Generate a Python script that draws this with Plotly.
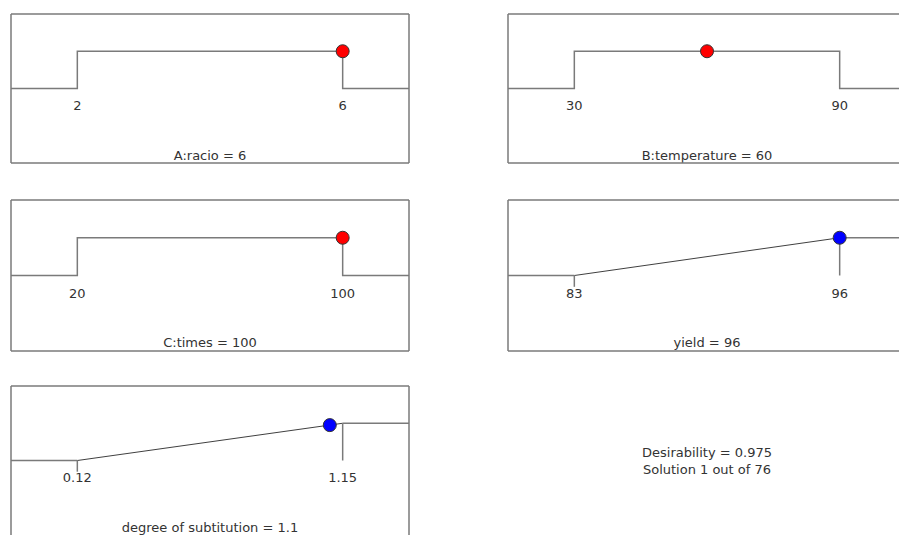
import plotly.graph_objects as go

# ---- data ----
panel_names = ["A:racio", "B:temperature", "C:times", "yield", "degree of subtitution"]
panel_values = ["6", "60", "100", "96", "1.1"]
low_limits = [2, 30, 20, 83, 0.12]
high_limits = [6, 90, 100, 96, 1.15]
tick_labels = [["2", "6"], ["30", "90"], ["20", "100"], ["83", "96"], ["0.12", "1.15"]]
solution_x = [6, 60, 100, 96, 1.1]
solution_d = [1, 1, 1, 1, 0.95]
goal_kind = ["range", "range", "range", "max", "max"]
dot_colors = ["#ff0000", "#ff0000", "#ff0000", "#0000ff", "#0000ff"]
desirability = 0.975
solution_no = 1
solution_total = 76

# ---- layout geometry (page pixels) ----
W, H = 899, 535
cols = [(11, 409), (508, 906)]
rows = [(14, 163), (200, 351), (386, 535)]
slots = [(0, 0), (1, 0), (0, 1), (1, 1), (0, 2)]
# which borders each panel shows (top, left, bottom, right)
borders = [
    (True, True, True, True),
    (True, True, True, False),
    (True, True, True, True),
    (True, True, True, False),
    (True, True, False, True),
]

LINE = "#7a7a7a"
RAMP = "#404040"
TXT = "#333333"
FONT = "DejaVu Sans, sans-serif"
FS = 13
YR = (-2.0, 2.0)

fig = go.Figure()
layout_axes = {}
shapes = []

for i in range(5):
    c, r = slots[i]
    x0p, x1p = cols[c]
    y0p, y1p = rows[r]
    lo, hi = low_limits[i], high_limits[i]
    span = hi - lo
    r_lo = lo - 0.25 * span
    r_full_hi = hi + 0.25 * span
    vis_x1 = min(x1p, W)
    r_hi = r_lo + (r_full_hi - r_lo) * (vis_x1 - x0p) / (x1p - x0p)
    vis_y1 = min(y1p, H)
    y_lo = YR[1] - (YR[1] - YR[0]) * (vis_y1 - y0p) / (y1p - y0p)
    xa = "x" if i == 0 else f"x{i+1}"
    ya = "y" if i == 0 else f"y{i+1}"
    xkey = "xaxis" if i == 0 else f"xaxis{i+1}"
    ykey = "yaxis" if i == 0 else f"yaxis{i+1}"
    layout_axes[xkey] = dict(domain=[x0p / W, vis_x1 / W], range=[r_lo, r_hi],
                             visible=False, anchor=ya, fixedrange=True)
    layout_axes[ykey] = dict(domain=[1 - vis_y1 / H, 1 - y0p / H], range=[y_lo, YR[1]],
                             visible=False, anchor=xa, fixedrange=True)

    if goal_kind[i] == "range":
        fig.add_trace(go.Scatter(x=[r_lo, lo, lo, hi, hi, r_hi], y=[0, 0, 1, 1, 0, 0],
                                 mode="lines", line=dict(color=LINE, width=1.5),
                                 xaxis=xa, yaxis=ya, hoverinfo="skip"))
    else:
        fig.add_trace(go.Scatter(x=[r_lo, lo], y=[0, 0], mode="lines",
                                 line=dict(color=LINE, width=1.3), xaxis=xa, yaxis=ya, hoverinfo="skip"))
        fig.add_trace(go.Scatter(x=[lo, hi], y=[0, 1], mode="lines",
                                 line=dict(color=RAMP, width=1), xaxis=xa, yaxis=ya, hoverinfo="skip"))
        fig.add_trace(go.Scatter(x=[hi, r_hi], y=[1, 1], mode="lines",
                                 line=dict(color=LINE, width=1.3), xaxis=xa, yaxis=ya, hoverinfo="skip"))
        fig.add_trace(go.Scatter(x=[lo, lo], y=[0, -0.3], mode="lines",
                                 line=dict(color=LINE, width=1.5), xaxis=xa, yaxis=ya, hoverinfo="skip"))
        fig.add_trace(go.Scatter(x=[hi, hi], y=[1, 0], mode="lines",
                                 line=dict(color=LINE, width=1.5), xaxis=xa, yaxis=ya, hoverinfo="skip"))

    # tick labels
    fig.add_trace(go.Scatter(x=[lo, hi], y=[-0.5, -0.5], mode="text", text=tick_labels[i],
                             textfont=dict(family=FONT, size=FS, color=TXT),
                             xaxis=xa, yaxis=ya, hoverinfo="skip"))
    # panel label
    fig.add_trace(go.Scatter(x=[(r_lo + r_full_hi) / 2], y=[-1.82], mode="text",
                             text=[f"{panel_names[i]} = {panel_values[i]}"],
                             textfont=dict(family=FONT, size=FS, color=TXT),
                             xaxis=xa, yaxis=ya, hoverinfo="skip", cliponaxis=False))
    # solution dot
    fig.add_trace(go.Scatter(x=[solution_x[i]], y=[solution_d[i]], mode="markers",
                             marker=dict(color=dot_colors[i], size=13,
                                         line=dict(color="#333333", width=1)),
                             xaxis=xa, yaxis=ya, hoverinfo="skip"))

    # borders
    t, l, b, rr = borders[i]
    xd, yd = f"{xa} domain", f"{ya} domain"
    seg = []
    if t: seg.append((0, 1, 1, 1))
    if b: seg.append((0, 0, 1, 0))
    if l: seg.append((0, 0, 0, 1))
    if rr: seg.append((1, 0, 1, 1))
    for (a0, b0, a1, b1) in seg:
        shapes.append(dict(type="line", xref=xd, yref=yd, x0=a0, y0=b0, x1=a1, y1=b1,
                           line=dict(color=LINE, width=1.5)))

fig.update_layout(
    width=W, height=H, margin=dict(l=0, r=0, t=0, b=0),
    paper_bgcolor="white", plot_bgcolor="white", showlegend=False,
    shapes=shapes,
    annotations=[dict(
        x=707 / W, y=1 - 461 / H, xref="paper", yref="paper",
        xanchor="center", yanchor="middle", showarrow=False,
        text=f"Desirability = {desirability}<br>Solution {solution_no} out of {solution_total}",
        font=dict(family=FONT, size=FS, color=TXT), align="center")],
    **layout_axes,
)

fig.write_html("out.html", config={"displayModeBar": False, "staticPlot": True},
               post_script="document.body.style.margin='0';")
